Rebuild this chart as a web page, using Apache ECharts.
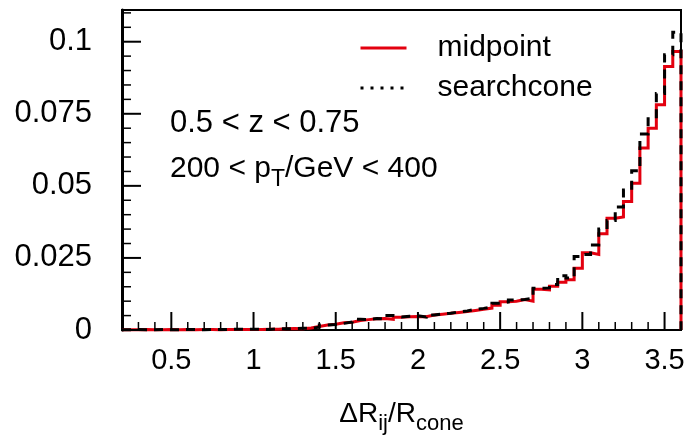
<!DOCTYPE html>
<html>
<head>
<meta charset="utf-8">
<title>Jet separation distribution</title>
<script src="https://cdn.jsdelivr.net/npm/echarts@6/dist/echarts.min.js"></script>
<style>
  html, body { margin: 0; padding: 0; background: #fff; }
  #chart { width: 688px; height: 443px; }
</style>
</head>
<body>
<div id="chart"></div>
<script>
// Histogram binning: 68 bins of width 0.05 covering 0.2 .. 3.6
const BIN_LO = 0.2;
const BIN_HI = 3.6;
const BIN_W = 0.05;

// Normalised bin contents, midpoint algorithm
const midpoint = [
  0.0001, 0.0001, 0.0002, 0.0001, 0.0001, 0.0002, 0.0001, 0.0002,
  0.0001, 0.0002, 0.0002, 0.0001, 0.0002, 0.0002, 0.0002, 0.0002,
  0.0002, 0.0003, 0.0003, 0.0004, 0.0005, 0.0004, 0.0007, 0.0012,
  0.0017, 0.0020, 0.0025, 0.0027, 0.0033, 0.0036, 0.0039, 0.0040,
  0.0037, 0.0044, 0.0046, 0.0047, 0.0046, 0.0052, 0.0055, 0.0058,
  0.0061, 0.0064, 0.0068, 0.0072, 0.0076, 0.0086, 0.0098, 0.0100,
  0.0106, 0.0100, 0.0141, 0.0139, 0.0152, 0.0166, 0.0174, 0.0214,
  0.0268, 0.0262, 0.0334, 0.0388, 0.0392, 0.0446, 0.0509, 0.0631,
  0.0700, 0.0781, 0.0914, 0.0966
];

// Normalised bin contents, search-cone algorithm
const searchcone = [
  0.0001, 0.0002, 0.0001, 0.0001, 0.0002, 0.0001, 0.0001, 0.0002,
  0.0002, 0.0001, 0.0002, 0.0002, 0.0002, 0.0003, 0.0002, 0.0003,
  0.0002, 0.0002, 0.0004, 0.0004, 0.0005, 0.0006, 0.0006, 0.0010,
  0.0017, 0.0019, 0.0023, 0.0028, 0.0037, 0.0036, 0.0040, 0.0038,
  0.0050, 0.0045, 0.0048, 0.0049, 0.0045, 0.0052, 0.0056, 0.0058,
  0.0063, 0.0066, 0.0072, 0.0075, 0.0080, 0.0093, 0.0097, 0.0104,
  0.0106, 0.0110, 0.0145, 0.0146, 0.0158, 0.0188, 0.0180, 0.0255,
  0.0262, 0.0295, 0.0350, 0.0380, 0.0427, 0.0486, 0.0552, 0.0680,
  0.0733, 0.0820, 0.0955, 0.1033
];

// Axis tick labels (major ticks sit at the same values)
const xTickLabels = [0.5, 1, 1.5, 2, 2.5, 3, 3.5];
const yTickLabels = [0, 0.025, 0.05, 0.075, 0.1];
const Y_MAX = 0.111;

// Minor tick positions: every 0.1 on x, every 0.005 on y
const xMinor = [];
for (let k = 3; k <= 35; k++) { if (k % 5 !== 0) xMinor.push(k / 10); }
const yMinor = [];
for (let k = 1; k <= 22; k++) { if (k % 5 !== 0) yMinor.push(+(k * 0.005).toFixed(3)); }

// Turn bin contents into step-line vertices (left edge of each bin, then closing edge)
function histPoints(vals) {
  const pts = vals.map((v, i) => [+(BIN_LO + i * BIN_W).toFixed(2), v]);
  pts.push([BIN_HI, vals[vals.length - 1]]);
  pts.push([BIN_HI, 0]);
  return pts;
}

// Inward-pointing tick marks placed through the cartesian coordinate system
function tickSeries(values, dir, len, width) {
  return {
    type: 'custom', coordinateSystem: 'cartesian2d', silent: true, clip: false, z: 10,
    encode: { x: 0, y: 1 },
    data: values.map(v => (dir === 'x' ? [v, 0] : [BIN_LO, v])),
    renderItem: (params, api) => {
      const p = api.coord([api.value(0), api.value(1)]);
      const shape = dir === 'x'
        ? { x1: p[0], y1: p[1], x2: p[0], y2: p[1] - len }
        : { x1: p[0], y1: p[1], x2: p[0] + len, y2: p[1] };
      return { type: 'line', shape, style: { stroke: '#000', lineWidth: width, fill: null } };
    }
  };
}

const FONT = "'Liberation Sans', Arial, Helvetica, sans-serif";
const RED = '#e3000f';

const chart = echarts.init(document.getElementById('chart'), null, { renderer: 'canvas' });

chart.setOption({
  animation: false,
  backgroundColor: '#ffffff',
  textStyle: { fontFamily: FONT },
  grid: {
    left: 122, right: 7, top: 10, bottom: 113,
    show: true, borderColor: '#000', borderWidth: 2
  },
  legend: {
    left: 359, top: 33, orient: 'vertical', padding: 0,
    itemWidth: 46, itemHeight: 14, itemGap: 10,
    textStyle: { fontFamily: FONT, fontSize: 30, color: '#000', lineHeight: 30, padding: [0, 0, 0, 26] },
    data: [
      { name: 'midpoint', itemStyle: { opacity: 0 }, lineStyle: { color: RED, width: 3, type: 'solid' } },
      { name: 'searchcone', itemStyle: { opacity: 0 }, lineStyle: { color: '#000', width: 3, type: [3, 7] } }
    ]
  },
  xAxis: {
    type: 'value', min: BIN_LO, max: BIN_HI, interval: 0.1, position: 'bottom',
    name: 'ΔR{s|ij}/R{s|cone}', nameLocation: 'middle', nameGap: 84,
    nameTextStyle: {
      fontFamily: FONT, fontSize: 28, color: '#000', verticalAlign: 'middle',
      rich: { s: { fontFamily: FONT, fontSize: 22, color: '#000', padding: [20, 0, 0, 0] } }
    },
    axisLine: { show: true, onZero: false, lineStyle: { color: '#000', width: 2 } },
    axisTick: { show: false },
    axisLabel: { show: true, customValues: xTickLabels, margin: 16, fontFamily: FONT, fontSize: 29, color: '#000' },
    splitLine: { show: false }
  },
  yAxis: {
    type: 'value', min: 0, max: Y_MAX, interval: 0.025, position: 'left',
    axisLine: { show: true, onZero: false, lineStyle: { color: '#000', width: 3 } },
    axisTick: { show: false },
    axisLabel: { show: true, customValues: yTickLabels, margin: 30, fontFamily: FONT, fontSize: 31, color: '#000' },
    splitLine: { show: false }
  },
  graphic: [
    {
      type: 'text', x: 170, y: 123,
      style: { text: '0.5 < z < 0.75', fontFamily: FONT, fontSize: 31, fill: '#000', align: 'left', verticalAlign: 'middle' }
    },
    {
      type: 'text', x: 170, y: 169,
      style: {
        text: '200 < p{s|T}/GeV < 400', fontFamily: FONT, fontSize: 30, fill: '#000', align: 'left', verticalAlign: 'middle',
        rich: { s: { fontFamily: FONT, fontSize: 23, fill: '#000', padding: [22, 0, 0, 0] } }
      }
    }
  ],
  series: [
    tickSeries(xTickLabels, 'x', 18, 2),
    tickSeries(xMinor, 'x', 8, 1.5),
    tickSeries(yTickLabels, 'y', 19, 2),
    tickSeries(yMinor, 'y', 9, 1.5),
    {
      name: 'midpoint', type: 'line', step: 'end',
      data: histPoints(midpoint), symbol: 'none', clip: false,
      lineStyle: { color: RED, width: 3, type: 'solid', cap: 'butt', join: 'miter' },
      itemStyle: { color: RED }, z: 3
    },
    {
      name: 'searchcone', type: 'line', step: 'end',
      data: histPoints(searchcone), symbol: 'none', clip: false,
      lineStyle: { color: '#000', width: 3, type: [9, 7], cap: 'butt', join: 'miter' },
      itemStyle: { color: '#000' }, z: 4
    }
  ]
});
</script>
</body>
</html>
